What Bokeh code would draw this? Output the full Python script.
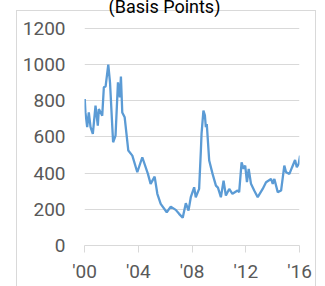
from bokeh.plotting import figure
from bokeh.models import FixedTicker, Label
from bokeh.embed import file_html
from bokeh.resources import INLINE

# Spread data (basis points), decimal years
dates = [2000.02, 2000.07, 2000.20, 2000.32, 2000.45, 2000.62, 2000.82, 2000.99,
         2001.07, 2001.32, 2001.44, 2001.57, 2001.77, 2001.90, 2002.07, 2002.13,
         2002.31, 2002.49, 2002.63, 2002.71, 2002.81, 2002.99, 2003.26, 2003.56,
         2003.93, 2004.30, 2004.72, 2004.92, 2005.22, 2005.42, 2005.67, 2006.12,
         2006.42, 2006.79, 2007.04, 2007.31, 2007.54, 2007.74, 2007.91, 2008.16,
         2008.28, 2008.53, 2008.66, 2008.71, 2008.85, 2008.96, 2009.03, 2009.10,
         2009.28, 2009.53, 2009.78, 2009.93, 2010.15, 2010.35, 2010.52, 2010.77,
         2011.01, 2011.39, 2011.51, 2011.69, 2011.84, 2011.96, 2012.09, 2012.22,
         2012.39, 2012.63, 2012.89, 2013.26, 2013.51, 2013.88, 2014.01, 2014.13,
         2014.38, 2014.63, 2014.87, 2015.00, 2015.25, 2015.45, 2015.67, 2015.80,
         2015.94, 2016.04]
spread = [810, 736, 654, 736, 654, 617, 773, 663,
          755, 718, 875, 880, 1000, 900, 654, 571,
          608, 902, 819, 934, 736, 709, 525, 497,
          405, 488, 396, 341, 381, 286, 230, 184,
          215, 197, 175, 153, 234, 193, 267, 322,
          267, 313, 525, 617, 746, 720, 654, 672,
          470, 396, 331, 320, 267, 359, 276, 313,
          286, 304, 295, 460, 424, 442, 350, 424,
          341, 304, 267, 313, 350, 368, 341, 368,
          295, 304, 442, 405, 396, 433, 473, 433,
          451, 497]

y_ticks = [0, 200, 400, 600, 800, 1000, 1200]
x_ticks = [2000, 2004, 2008, 2012, 2016]
x_tick_labels = ["'00", "'04", "'08", "'12", "'16"]
title_text = "(Basis Points)"

FONT = "Roboto"
GRAY = "#595959"
LIGHT = "#d9d9d9"

grad = "linear-gradient(#d9d9d9,#d9d9d9)"
border_css = (f"{grad} 24px 18px / 1px 300px no-repeat, "
              f"{grad} 323px 18px / 1px 300px no-repeat, "
              f"{grad} 24px 18px / 300px 1px no-repeat, white")

# plot area reaches above the window top so that the title can sit there
p = figure(width=333, height=294, x_range=(2000, 2016), y_range=(0, 1399),
           output_backend="svg", toolbar_location=None,
           min_border_left=92, min_border_right=26, min_border_top=0,
           min_border_bottom=41, margin=(-8, 0, 0, -8),
           styles={"background": border_css})
p.background_fill_color = None
p.border_fill_color = None
p.outline_line_color = None

p.line(dates, spread, line_color="#5B9BD5", line_width=2.3)

p.xgrid.grid_line_color = None
p.ygrid.grid_line_color = LIGHT
p.ygrid.grid_line_width = 1

p.yaxis.ticker = FixedTicker(ticks=y_ticks)
p.yaxis.axis_line_color = None
p.yaxis.major_tick_line_color = None
p.yaxis.major_tick_in = 0
p.yaxis.major_tick_out = 0
p.yaxis.minor_tick_line_color = None
p.yaxis.major_label_standoff = 19
p.yaxis.major_label_text_font = FONT
p.yaxis.major_label_text_font_size = "19px"
p.yaxis.major_label_text_color = GRAY

p.xaxis.ticker = FixedTicker(ticks=x_ticks)
p.xaxis.major_label_overrides = {t: l for t, l in zip(x_ticks, x_tick_labels)}
p.xaxis.axis_line_color = LIGHT
p.xaxis.major_tick_line_color = LIGHT
p.xaxis.major_tick_in = 0
p.xaxis.major_tick_out = 7
p.xaxis.minor_tick_line_color = None
p.xaxis.major_label_standoff = 7
p.xaxis.major_label_text_font = FONT
p.xaxis.major_label_text_font_size = "19px"
p.xaxis.major_label_text_color = GRAY

lbl = Label(x=172, y=13.5, x_units="canvas", y_units="canvas", text=title_text,
            text_align="center", text_baseline="alphabetic",
            text_font=FONT, text_font_size="18px", text_color="black")
p.add_layout(lbl)

open("out.html", "w").write(file_html(p, INLINE))
